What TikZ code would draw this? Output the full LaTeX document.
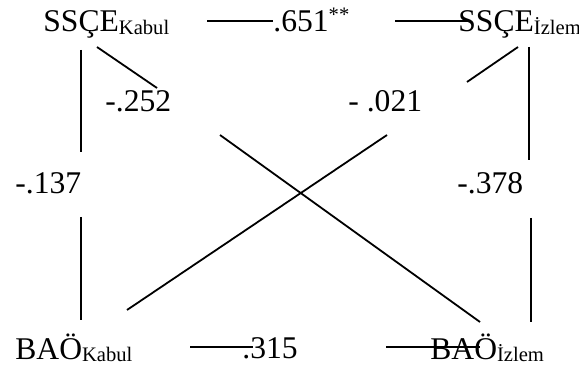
\documentclass[tikz,border=0pt]{standalone}
\usepackage{fontspec}
\setmainfont{Liberation Serif}
\newcommand\subtxt[1]{\raisebox{-1.2pt}{\fontsize{10.3}{12}\selectfont #1}}
\newcommand\suptxt[1]{\raisebox{5.4pt}{\fontsize{10.3}{12}\selectfont #1}}

\begin{document}
\begin{tikzpicture}[
    x=0.5pt, y=-0.5pt,
    font=\fontsize{15.8}{18}\selectfont,
    var/.style ={anchor=base west, inner sep=0pt},
    coef/.style={anchor=base west, inner sep=0pt},
    link/.style={line width=0.9pt},
  ]
  \useasboundingbox (0,0) rectangle (579,374);

  % ------------------------------------------------------------ variables ---
  \node[var] (sk) at (43,32)   {SSÇE\subtxt{Kabul}};
  \node[var] (si) at (458,32)  {SSÇE\subtxt{İzlem}};
  \node[var] (bk) at (15,359)  {BAÖ\subtxt{Kabul}};
  \node[var] (bi) at (430,359) {BAÖ\subtxt{İzlem}};

  % --------------------------------------------------------- coefficients ---
  \node[coef] (c651) at (273,32)  {.651\suptxt{**}};
  \node[coef] (c252) at (105,112) {-.252};
  \node[coef] (c021) at (348,112) {- .021};
  \node[coef] (c137) at (15,194)  {-.137};
  \node[coef] (c378) at (457,194) {-.378};
  \node[coef] (c315) at (242,358) {.315};

  % ------------------------------------------------------------ line ends ---
  \coordinate (a1) at (207,21);  \coordinate (a2) at (395,21);
  \coordinate (a3) at (468,21);
  \coordinate (b1) at (97,47);   \coordinate (b2) at (157,88);
  \coordinate (b3) at (518,47);  \coordinate (b4) at (467,82);
  \coordinate (v1) at (81,50);   \coordinate (v2) at (81,152);
  \coordinate (v3) at (81,217);  \coordinate (v4) at (81,320);
  \coordinate (v5) at (529,47);  \coordinate (v6) at (529,160);
  \coordinate (v7) at (531,218); \coordinate (v8) at (531,322);
  \coordinate (d1) at (220,135); \coordinate (d2) at (480,322);
  \coordinate (d3) at (387,135); \coordinate (d4) at (127,310);
  \coordinate (h1) at (190,347); \coordinate (h2) at (253,347);
  \coordinate (h3) at (386,347); \coordinate (h4) at (480,347);

  % ================================================================ lines ===
  % top pair
  \draw[link] (a1) -- (c651.west |- a1);
  \draw[link] (a2) -- (a3);
  % short slants to the cross coefficients
  \draw[link] (b1) -- (b2);
  \draw[link] (b3) -- (b4);
  % left and right columns
  \draw[link] (v1) -- (v2);  \draw[link] (v3) -- (v4);
  \draw[link] (v5) -- (v6);  \draw[link] (v7) -- (v8);
  % the cross
  \draw[link] (d1) -- (d2);
  \draw[link] (d3) -- (d4);
  % bottom pair
  \draw[link] (h1) -- (h2);
  \draw[link] (h3) -- (h4);

\end{tikzpicture}
\end{document}
